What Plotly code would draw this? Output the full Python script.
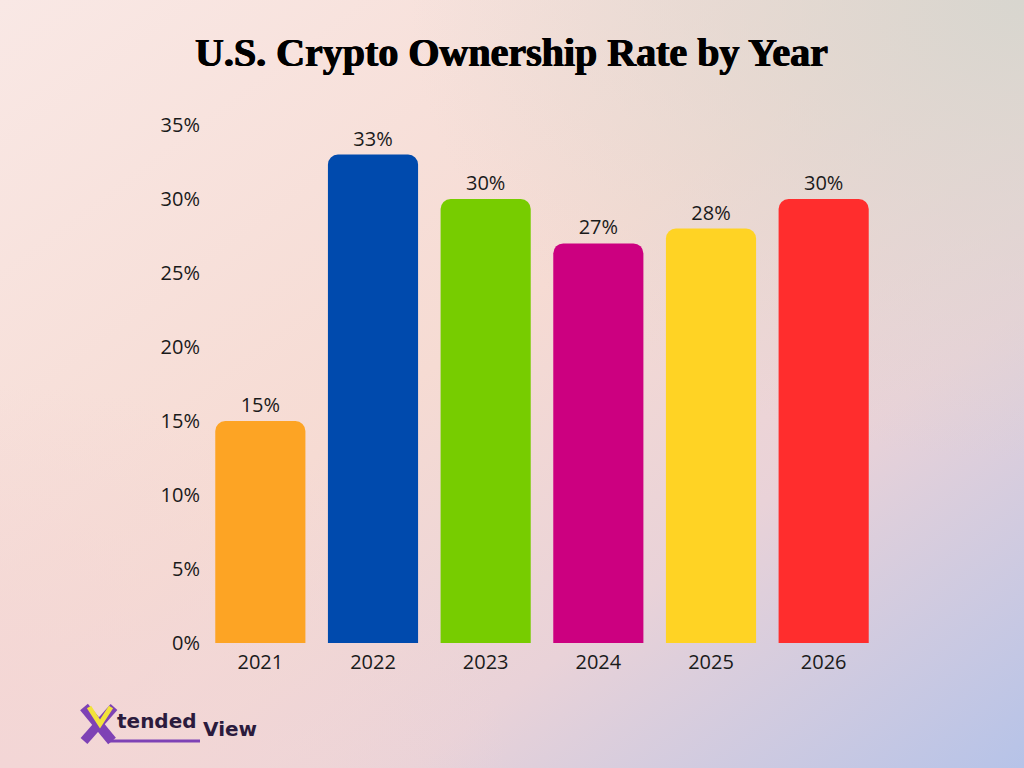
import plotly.graph_objects as go
import base64

years = ["2021", "2022", "2023", "2024", "2025", "2026"]
ownership = [15, 33, 30, 27, 28, 30]
bar_colors = ["#FDA424", "#004AAD", "#77CC00", "#CC0080", "#FFD324", "#FF2D2D"]
y_ticks = [0, 5, 10, 15, 20, 25, 30, 35]
y_tick_text = [f"{v}%" for v in y_ticks]

W, H = 1024, 768

svg = f"""<svg xmlns='http://www.w3.org/2000/svg' width='{W}' height='{H}' viewBox='0 0 {W} {H}' preserveAspectRatio='none'>
<defs>
<linearGradient id='g1' x1='0' y1='0' x2='1' y2='1'>
<stop offset='0' stop-color='#f9e8e5'/>
<stop offset='0.45' stop-color='#f6dbd3'/>
<stop offset='0.7' stop-color='#e9d2d8'/>
<stop offset='1' stop-color='#b6c3e8'/>
</linearGradient>
<radialGradient id='g2' cx='1' cy='0' r='0.6'>
<stop offset='0' stop-color='#d8d6cf' stop-opacity='1'/>
<stop offset='1' stop-color='#d8d6cf' stop-opacity='0'/>
</radialGradient>
<radialGradient id='g3' cx='0' cy='1' r='0.5'>
<stop offset='0' stop-color='#f3d6d6' stop-opacity='1'/>
<stop offset='1' stop-color='#f3d6d6' stop-opacity='0'/>
</radialGradient>
</defs>
<rect width='{W}' height='{H}' fill='url(#g1)'/>
<rect width='{W}' height='{H}' fill='url(#g2)'/>
<rect width='{W}' height='{H}' fill='url(#g3)'/>
</svg>"""
bg_uri = "data:image/svg+xml;base64," + base64.b64encode(svg.encode()).decode()

LABEL_FONT = "Open Sans"

fig = go.Figure()
fig.add_trace(go.Bar(
    x=years,
    y=ownership,
    marker=dict(color=bar_colors, cornerradius=10, line=dict(width=0)),
    text=[f"{v}%" for v in ownership],
    textposition="outside",
    textfont=dict(family=LABEL_FONT, size=20, color="#1a1a1a"),
    cliponaxis=False,
    hoverinfo="skip",
))

def px_x(p):
    return p / W

def px_y(p):
    return 1 - p / H

fig.update_layout(
    width=W, height=H,
    margin=dict(l=0, r=0, t=0, b=0, pad=0, autoexpand=False),
    paper_bgcolor="#f6dcd6",
    plot_bgcolor="rgba(0,0,0,0)",
    showlegend=False,
    bargap=0.2,
    font=dict(family=LABEL_FONT, color="#1a1a1a"),
    xaxis=dict(
        domain=[px_x(204), px_x(880)],
        showgrid=False, zeroline=False, showline=False, automargin=False,
        ticks="", ticklabelstandoff=5,
        tickfont=dict(family=LABEL_FONT, size=20, color="#1a1a1a"),
        fixedrange=True,
    ),
    yaxis=dict(
        domain=[px_y(643), px_y(125)],
        range=[0, 35],
        tickvals=y_ticks, ticktext=y_tick_text,
        showgrid=False, zeroline=False, showline=False, automargin=False,
        ticks="", ticklabelstandoff=3,
        tickfont=dict(family=LABEL_FONT, size=20, color="#1a1a1a"),
        fixedrange=True,
    ),
    images=[dict(
        source=bg_uri, xref="paper", yref="paper",
        x=0, y=1, sizex=1, sizey=1, sizing="stretch",
        xanchor="left", yanchor="top", layer="below",
    )],
)

# Title
fig.add_annotation(
    text="<b>U.S. Crypto Ownership Rate by Year</b>",
    xref="paper", yref="paper", x=px_x(511), y=px_y(52),
    xanchor="center", yanchor="middle", showarrow=False,
    font=dict(family="Liberation Serif", size=40, color="#000000",
              shadow="0.6px 0 0 #000, -0.6px 0 0 #000"),
)

# Logo graphic (X mark with yellow V) drawn as paths in paper coords
def pth(points):
    return "M " + " L ".join(f"{px_x(x)},{px_y(y)}" for x, y in points)

fig.add_shape(type="path", xref="paper", yref="paper",
              path=pth([(84, 707), (112, 741)]),
              line=dict(color="#7e42b5", width=10))
fig.add_shape(type="path", xref="paper", yref="paper",
              path=pth([(114, 707), (84, 741)]),
              line=dict(color="#7e42b5", width=9))
fig.add_shape(type="path", xref="paper", yref="paper",
              path=pth([(89, 707), (100, 724), (111, 707)]),
              line=dict(color="#f2e33a", width=5))
fig.add_shape(type="line", xref="paper", yref="paper",
              x0=px_x(108), x1=px_x(200), y0=px_y(741), y1=px_y(741),
              line=dict(color="#7e42b5", width=3))
fig.add_annotation(
    text="<b>tended</b>", xref="paper", yref="paper", x=px_x(115), y=px_y(721),
    xanchor="left", yanchor="middle", showarrow=False,
    font=dict(family="DejaVu Sans", size=20, color="#2b1b3d"),
)
fig.add_annotation(
    text="<b>View</b>", xref="paper", yref="paper", x=px_x(201), y=px_y(729),
    xanchor="left", yanchor="middle", showarrow=False,
    font=dict(family="DejaVu Sans", size=20, color="#2b1b3d"),
)

fig.write_html("out.html")
